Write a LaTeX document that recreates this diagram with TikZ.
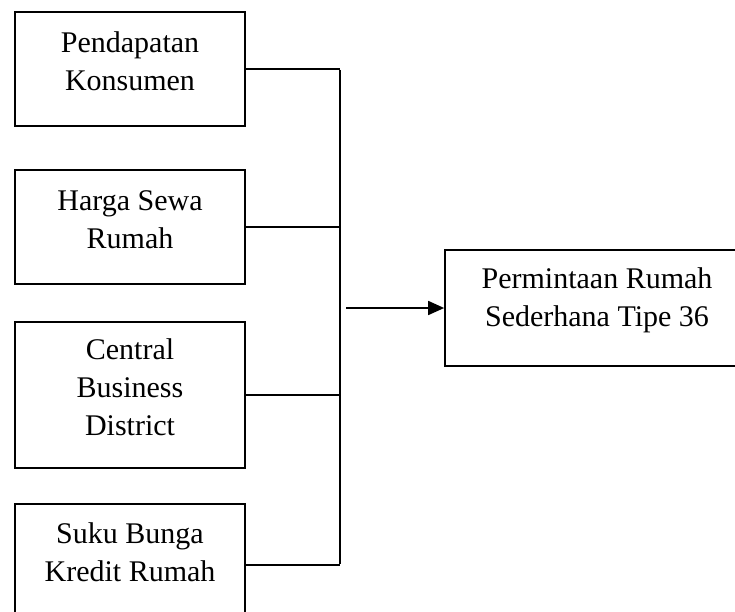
\documentclass[tikz,border=0pt]{standalone}
\usepackage{fontspec}
\setmainfont{Liberation Serif}
\usetikzlibrary{arrows.meta}
\begin{document}
\begin{tikzpicture}[x=1pt,y=-1pt,
  box/.style={draw, line width=1.7pt, rectangle, inner sep=0pt},
  lbl/.style={align=center, inner sep=0pt, anchor=base, font=\fontsize{30}{38}\selectfont},
  conn/.style={line width=1.7pt},
  arr/.style={line width=1.7pt, -{Triangle[length=16pt,width=14pt]}}]
\useasboundingbox (0,0) rectangle (735,611);
\clip (0,0) rectangle (735,611);
\node[box, minimum width=230pt, minimum height=114pt] (b1) at (130,69) {};
\node[box, minimum width=230pt, minimum height=114pt] (b2) at (130,227) {};
\node[box, minimum width=230pt, minimum height=146pt] (b3) at (130,395) {};
\node[box, minimum width=230pt, minimum height=122pt] (b4) at (130,565) {};
\node[box, minimum width=304pt, minimum height=116pt] (r) at (597,308) {};
\node[lbl] (t1) at (130,90) {Pendapatan\\Konsumen};
\node[lbl] (t2) at (130,248) {Harga Sewa\\Rumah};
\node[lbl] (t3) at (130,435) {Central\\Business\\District};
\node[lbl] (t4) at (130,581.5) {Suku Bunga\\Kredit Rumah};
\node[lbl] (tr) at (597,326.7) {Permintaan Rumah\\Sederhana Tipe 36};
\coordinate (vx) at (340,0);
\coordinate (as) at (346,308);
\draw[conn] (b1.east) -- (b1.east -| vx);
\draw[conn] (b2.east) -- (b2.east -| vx);
\draw[conn] (b3.east) -- (b3.east -| vx);
\draw[conn] (b4.east) -- (b4.east -| vx);
\draw[conn] ([yshift=-0.85pt]b1.east -| vx) -- ([yshift=0.85pt]b4.east -| vx);
\draw[arr] (as) -- (r.west);
\end{tikzpicture}
\end{document}
